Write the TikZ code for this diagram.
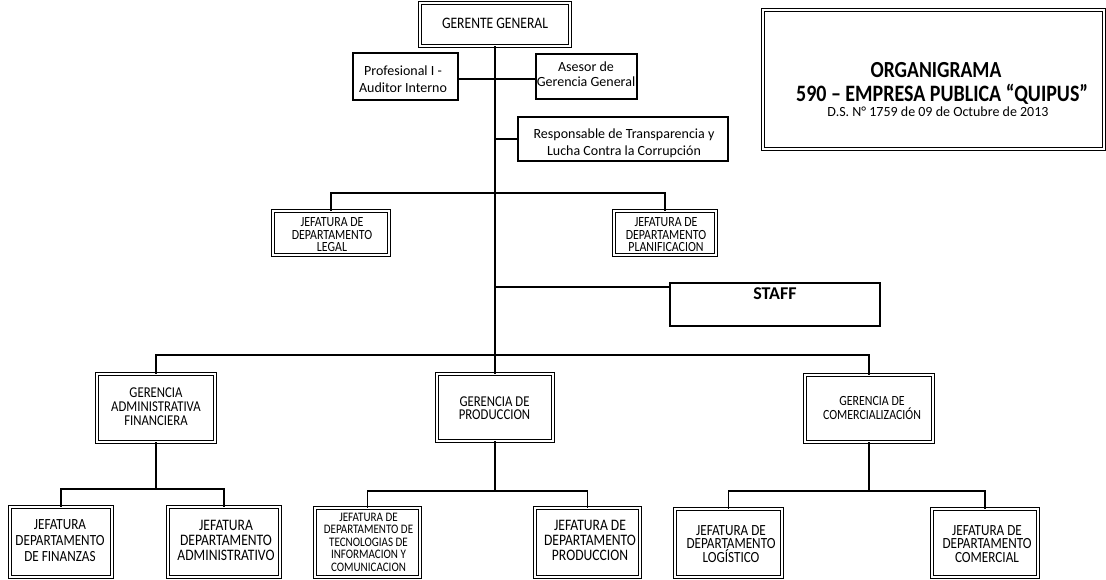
\documentclass[tikz,border=0pt]{standalone}
\usepackage{fontspec}
\setmainfont{Carlito}
\newfontfamily\cf[FakeStretch=0.85]{Carlito}
\begin{document}
\begin{tikzpicture}[x=1pt,y=-1pt]
\tikzset{
  dbox/.style={draw, double, double distance=1.4pt, line width=0.9pt, inner sep=0pt},
  sbox/.style={draw, line width=1.6pt, inner sep=0pt},
  conn/.style={line width=1.8pt},
  txt/.style={align=center, inner sep=0pt},
}
\fill[white] (0,0) rectangle (1106,579);
\useasboundingbox (0,0) rectangle (1106,579);

% ---------- boxes ----------
\node[dbox, minimum width=150pt, minimum height=43pt] (gg) at (495,24.5) {};
\node[sbox, minimum width=105pt, minimum height=47pt] (prof) at (405.5,76.5) {};
\node[sbox, minimum width=101pt, minimum height=45pt] (ases) at (586.5,76.5) {};
\node[sbox, minimum width=210pt, minimum height=44pt] (resp) at (623,139) {};
\node[dbox, minimum width=116pt, minimum height=44pt] (legal) at (331,233) {};
\node[dbox, minimum width=102pt, minimum height=44pt] (plan) at (665,233) {};
\node[sbox, minimum width=210pt, minimum height=43pt] (staff) at (775,304.5) {};
\node[dbox, minimum width=341pt, minimum height=139pt] (title) at (933.5,79.5) {};
\node[dbox, minimum width=118pt, minimum height=68pt] (gaf) at (156,408) {};
\node[dbox, minimum width=116pt, minimum height=67pt] (gp) at (495,407.5) {};
\node[dbox, minimum width=128pt, minimum height=67pt] (gc) at (869,408.5) {};
\node[dbox, minimum width=102pt, minimum height=70pt] (fin) at (61,542) {};
\node[dbox, minimum width=112pt, minimum height=70pt] (adm) at (224,542) {};
\node[dbox, minimum width=105pt, minimum height=69pt] (tec) at (367.5,542.5) {};
\node[dbox, minimum width=105pt, minimum height=69pt] (prod) at (587.5,542.5) {};
\node[dbox, minimum width=107pt, minimum height=68pt] (log) at (728.5,543) {};
\node[dbox, minimum width=106pt, minimum height=68pt] (com) at (985,543) {};

% ---------- texts ----------
\node[txt, font=\fontsize{16}{16}\selectfont\cf] (ggt) at (495,23) {GERENTE GENERAL};
\node[txt, font=\fontsize{14}{17}\selectfont] (proft) at (403,79.5) {Profesional I -\\Auditor Interno};
\node[txt, font=\fontsize{14}{15}\selectfont] (asest) at (586,74.5) {Asesor de\\Gerencia General};
\node[txt, font=\fontsize{14}{17}\selectfont] (respt) at (624,143.5) {Responsable de Transparencia y\\Lucha Contra la Corrupción};
\node[txt, font=\fontsize{14}{12.5}\selectfont\cf] (legalt) at (332,235) {JEFATURA DE\\DEPARTAMENTO\\LEGAL};
\node[txt, font=\fontsize{14}{12.5}\selectfont\cf] (plant) at (666,235) {JEFATURA DE\\DEPARTAMENTO\\PLANIFICACION};
\node[txt, font=\fontsize{18}{18}\selectfont\bfseries] (stafft) at (775,294) {STAFF};
\node[txt, font=\fontsize{23}{23}\selectfont\cf\bfseries] (tt1) at (936,70) {ORGANIGRAMA};
\node[txt, font=\fontsize{23.5}{23.5}\selectfont\cf\bfseries] (tt2) at (942,94) {590 – EMPRESA PUBLICA “QUIPUS”};
\node[txt, font=\fontsize{14}{14}\selectfont] (tt3) at (938,112) {D.S. N° 1759 de 09 de Octubre de 2013};
\node[txt, font=\fontsize{15}{14}\selectfont\cf] (gaft) at (156,407) {GERENCIA\\ADMINISTRATIVA\\FINANCIERA};
\node[txt, font=\fontsize{15}{13.5}\selectfont\cf] (gpt) at (494.5,408) {GERENCIA DE\\PRODUCCION};
\node[txt, font=\fontsize{14}{13.5}\selectfont\cf] (gct) at (872,408) {GERENCIA DE\\COMERCIALIZACIÓN};
\node[txt, font=\fontsize{15.5}{16}\selectfont\cf] (fint) at (60,541) {JEFATURA\\DEPARTAMENTO\\DE FINANZAS};
\node[txt, font=\fontsize{16}{15}\selectfont\cf] (admt) at (226,540.5) {JEFATURA\\DEPARTAMENTO\\ADMINISTRATIVO};
\node[txt, font=\fontsize{13}{12.5}\selectfont\cf] (tect) at (368.5,542) {JEFATURA DE\\DEPARTAMENTO DE\\TECNOLOGIAS DE\\INFORMACION Y\\COMUNICACION};
\node[txt, font=\fontsize{16}{15}\selectfont\cf] (prodt) at (590,540) {JEFATURA DE\\DEPARTAMENTO\\PRODUCCION};
\node[txt, font=\fontsize{15.5}{13.5}\selectfont\cf] (logt) at (731,544) {JEFATURA DE\\DEPARTAMENTO\\LOGÍSTICO};
\node[txt, font=\fontsize{15.5}{13.5}\selectfont\cf] (comt) at (987,544) {JEFATURA DE\\DEPARTAMENTO\\COMERCIAL};

% ---------- connector levels ----------
\coordinate (t1) at (495,79);
\coordinate (t2) at (495,139);
\coordinate (t3) at (495,193);
\coordinate (t4) at (495,287);
\coordinate (t5) at (495,355);
\coordinate (h1) at (0,489);
\coordinate (h2) at (0,491);

% ---------- connectors ----------
\draw[conn] (gg.south) -- (gp.north);
\draw[conn] (prof.east |- t1) -- (ases.west |- t1);
\draw[conn] (t2) -- (resp.west);
\draw[conn] (legal.north) -- (legal.north |- t3) -- (plan.north |- t3) -- (plan.north);
\draw[conn] (t4) -- (staff.west |- t4);
\draw[conn] (gaf.north) -- (gaf.north |- t5) -- (gc.north |- t5) -- (gc.north);
\draw[conn] (gaf.south) -- (gaf.south |- h1);
\draw[conn] (fin.north) -- (fin.north |- h1) -- (adm.north |- h1) -- (adm.north);
\draw[conn] (gp.south) -- (gp.south |- h2);
\draw[conn] (tec.north) -- (tec.north |- h2) -- (prod.north |- h2) -- (prod.north);
\draw[conn] (gc.south) -- (gc.south |- h2);
\draw[conn] (log.north) -- (log.north |- h2) -- (com.north |- h2) -- (com.north);
\end{tikzpicture}
\end{document}
